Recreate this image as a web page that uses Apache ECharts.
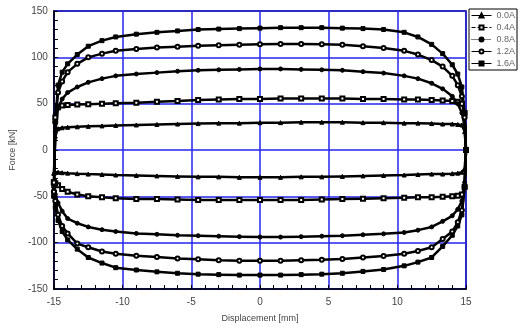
<!DOCTYPE html>
<html>
<head>
<meta charset="utf-8">
<script src="https://cdn.jsdelivr.net/npm/echarts@6/dist/echarts.min.js"></script>
<style>
  html, body { margin: 0; padding: 0; background: #fff; }
  #main { width: 524px; height: 328px; }
</style>
</head>
<body>
<div id="main"></div>
<script>
// displacement points of the upper branch (left -> right); lower branch runs back
var dispUp = [-15, -14.9, -14.7, -14.4, -14, -13.3, -12.5, -11.5, -10.5, -9, -7.5, -6, -4.5, -3, -1.5, 0,
              1.5, 3, 4.5, 6, 7.5, 9, 10.5, 11.5, 12.5, 13.3, 14, 14.4, 14.7, 14.9, 15];
var dispDown = dispUp.slice().reverse();

var currents = ['0.0A', '0.4A', '0.8A', '1.2A', '1.6A'];

// force [kN], upper branch (on dispUp)
var up00 = [-25, 15, 23, 24, 24.5, 25, 25.5, 26, 26.5, 27, 27.5, 28, 28.5, 29, 29, 29.5,
            29.5, 30, 30, 30, 29.5, 29.5, 29, 29, 28.5, 28, 28, 27.5, 27, 20, 0];
var up04 = [-35, 35, 46, 48, 48.5, 49, 49.5, 50, 50.5, 51, 52, 53, 54, 54.5, 55, 55,
            55.5, 55.5, 55.5, 55.5, 55, 55, 54.5, 54.5, 54, 53.5, 53, 52, 50, 40, 0];
var up08 = [-40, 20, 45, 55, 62, 68, 73, 77, 80, 82, 83.5, 85, 86, 86.5, 87, 87.5,
            87.5, 87, 86.5, 86, 84.5, 83, 80, 77, 72, 66, 58, 50, 40, 25, 0];
var up12 = [-45, 30, 62, 74, 84, 93, 100, 104, 107, 109, 110.5, 111.5, 112.5, 113, 113.5, 114,
            114.5, 114.5, 114, 113.5, 112, 110, 107, 103, 97, 90, 80, 70, 58, 35, 0];
var up16 = [-50, 30, 70, 84, 93, 103, 112, 118, 122, 125, 127, 128.5, 130, 130.5, 131, 131.5,
            132, 132, 132, 131.5, 131, 130, 127, 122, 114, 104, 92, 82, 68, 40, 0];

// lower branch (on dispDown)
var lo00 = [0, -20, -24, -25, -25.5, -26, -26, -26.5, -27, -27.5, -28, -28.5, -29, -29, -29.5, -29.5,
            -29.5, -29, -29, -28.5, -28, -27.5, -27, -26.5, -26, -25.5, -25, -24.5, -24, -24, -25];
var lo04 = [0, -40, -48, -49.5, -50, -50.5, -51, -51, -51.5, -52, -52.5, -53, -53.5, -54, -54, -54,
            -54, -54, -54, -53.5, -53, -53, -52, -51, -50, -48, -45, -42, -38, -36, -35];
var lo08 = [0, -35, -55, -64, -71, -77, -83, -86.5, -89, -90.5, -91.5, -92.5, -93, -93.5, -94, -94,
            -93.5, -93, -92.5, -92, -91, -90, -88, -86, -83, -79, -74, -66, -57, -48, -40];
var lo12 = [0, -40, -65, -78, -88, -96, -105, -109, -112, -114.5, -116, -117.5, -118.5, -119, -119.5, -119.5,
            -119.5, -119, -118, -117, -115.5, -114, -112, -109.5, -105, -101, -90, -82, -70, -55, -45];
var lo16 = [0, -40, -70, -82, -92, -104, -116, -121, -125, -129, -131, -133, -134, -134.5, -135, -135,
            -135, -134.5, -134, -133, -131.5, -129.5, -127, -122, -116, -107, -97, -88, -76, -62, -50];

var upper = [up00, up04, up08, up12, up16];
var lower = [lo00, lo04, lo08, lo12, lo16];
var symbols = ['triangle', 'emptyRect', 'circle', 'emptyCircle', 'rect'];
var legendDash = ['solid', 'dashed', 'dotted', 'solid', 'solid'];

function loop(k) {
  var pts = [];
  for (var i = 0; i < dispUp.length; i++) pts.push([dispUp[i], upper[k][i]]);
  for (var j = 0; j < dispDown.length; j++) pts.push([dispDown[j], lower[k][j]]);
  pts.push([dispUp[0], upper[k][0]]);
  return pts;
}

var myChart = echarts.init(document.getElementById('main'));

var series = [];
var legendData = [];
for (var k = 0; k < currents.length; k++) {
  series.push({
    name: currents[k],
    type: 'line',
    data: loop(k),
    symbol: symbols[k],
    symbolSize: 4,
    showAllSymbol: true,
    color: '#000',
    lineStyle: { color: '#000', width: 2.5 },
    itemStyle: { color: '#000', borderColor: '#000', borderWidth: 1 },
    animation: false
  });
  legendData.push({
    name: currents[k],
    lineStyle: { width: 1, type: legendDash[k] }
  });
}

var font = 'Liberation Sans, Arial, sans-serif';

option = {
  animation: false,
  textStyle: { fontFamily: font },
  grid: {
    left: 49, right: 58, top: 11, bottom: 38,
    show: true, borderColor: '#000', borderWidth: 1.5
  },
  legend: {
    orient: 'vertical',
    left: 469, top: 9,
    data: legendData,
    itemWidth: 20, itemHeight: 5, itemGap: 3,
    padding: [2, 2, 2, 2],
    backgroundColor: '#fff',
    borderColor: '#000', borderWidth: 1,
    textStyle: { fontSize: 9, color: '#666', fontFamily: font }
  },
  xAxis: {
    type: 'value',
    min: -15, max: 15, interval: 5,
    name: 'Displacement [mm]',
    nameLocation: 'middle', nameGap: 25,
    nameTextStyle: { fontSize: 9, color: '#444' },
    axisLine: { onZero: false, lineStyle: { color: '#000', width: 1.5 } },
    axisTick: { inside: true, length: 4, lineStyle: { color: '#000' } },
    minorTick: { show: true, splitNumber: 5, length: 4, lineStyle: { color: '#000' } },
    axisLabel: { fontSize: 10, color: '#444', margin: 8 },
    splitLine: { show: true, lineStyle: { color: '#2424f0', width: 1.5 } }
  },
  yAxis: {
    type: 'value',
    min: -150, max: 150, interval: 50,
    name: 'Force [kN]',
    nameLocation: 'middle', nameGap: 34, nameRotate: 90,
    nameTextStyle: { fontSize: 9, color: '#444' },
    axisLine: { onZero: false, lineStyle: { color: '#000', width: 1.5 } },
    axisTick: { inside: true, length: 4, lineStyle: { color: '#000' } },
    minorTick: { show: true, splitNumber: 5, length: 4, lineStyle: { color: '#000' } },
    axisLabel: { fontSize: 10, color: '#444', margin: 6 },
    splitLine: { show: true, lineStyle: { color: '#2424f0', width: 1.5 } }
  },
  series: series
};

myChart.setOption(option);
</script>
</body>
</html>
